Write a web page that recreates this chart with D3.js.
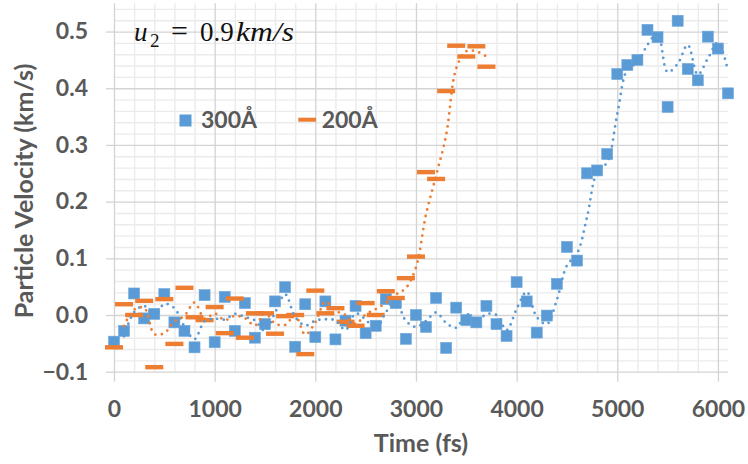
<!DOCTYPE html>
<html>
<head>
<meta charset="utf-8">
<script src="https://cdn.jsdelivr.net/npm/d3@7"></script>
<style>
body { margin: 0; background: #fff; }
text { font-family: Lato, "Open Sans", sans-serif; }
</style>
</head>
<body>
<script>
// data
var times300 = [0,100,200,300,400,500,600,700,800,900,1000,1100,1200,1300,1400,1500,1600,1700,1800,1900,
  2000,2100,2200,2300,2400,2500,2600,2700,2800,2900,3000,3100,3200,3300,3400,3500,3600,3700,3800,3900,
  4000,4100,4200,4300,4400,4500,4600,4700,4800,4900,5000,5100,5200,5300,5400,5500,5600,5700,5800,5900,
  6000,6100];
var vel300 = [-0.047,-0.028,0.038,-0.006,0.002,0.037,-0.013,-0.028,-0.057,0.035,
  -0.048,0.032,-0.028,0.021,-0.040,-0.016,0.024,0.049,-0.056,0.019,
  -0.039,0.024,-0.043,-0.010,0.016,-0.032,-0.019,0.028,0.021,-0.042,
  0.000,-0.021,0.030,-0.058,0.013,-0.009,-0.013,0.016,-0.016,-0.037,
  0.058,0.024,-0.031,-0.001,0.055,0.120,0.096,0.250,0.255,0.284,
  0.425,0.441,0.450,0.503,0.490,0.367,0.519,0.434,0.414,0.491,
  0.470,0.391];
var times200 = [0,100,200,300,400,500,600,700,800,900,1000,1100,1200,1300,1400,1500,1600,1700,1800,1900,
  2000,2100,2200,2300,2400,2500,2600,2700,2800,2900,3000,3100,3200,3300,3400,3500,3600,3700];
var vel200 = [-0.057,0.019,0.000,0.025,-0.092,0.028,-0.051,0.048,-0.004,-0.009,
  0.014,-0.032,0.029,-0.040,0.003,0.003,-0.033,-0.002,0.000,-0.069,
  0.043,0.003,0.012,-0.012,-0.019,0.021,0.000,0.042,0.030,0.065,
  0.103,0.252,0.240,0.395,0.475,0.456,0.474,0.438];
var seriesNames = ["300Å", "200Å"];
var xTicks = [0,1000,2000,3000,4000,5000,6000];
var yTicks = [-0.1,0,0.1,0.2,0.3,0.4,0.5];

var width = 748, height = 464;
var blue = "#5B9BD5", orange = "#ED7D31", grey = "#595959";

var x = d3.scaleLinear().domain([0, 6100]).range([114, 728]);
var y = d3.scaleLinear().domain([-0.1, 0.55]).range([371.7, 3.2]);

var svg = d3.select("body").append("svg")
  .attr("width", width)
  .attr("height", height);

//Minor grid
var xMinor = d3.range(200, 6101, 200).filter(function(d){ return d % 1000 !== 0; });
var yMinor = d3.range(-8, 55, 2).map(function(d){ return d / 100; })
  .filter(function(d){ return Math.abs(Math.round(d*100)) % 10 !== 0; });

svg.append("g")
  .attr("transform", "translate(0," + y.range()[0] + ")")
  .call(d3.axisBottom(x).tickValues(xMinor).tickSize(-(y.range()[0]-y.range()[1])).tickFormat(""))
  .call(function(g){ g.select(".domain").remove(); })
  .selectAll("line").attr("stroke", "#ebebeb").attr("stroke-width", 1.4);

svg.append("g")
  .attr("transform", "translate(" + x.range()[0] + ",0)")
  .call(d3.axisLeft(y).tickValues(yMinor).tickSize(-(x.range()[1]-x.range()[0])).tickFormat(""))
  .call(function(g){ g.select(".domain").remove(); })
  .selectAll("line").attr("stroke", "#ebebeb").attr("stroke-width", 1.4);

//Major grid
svg.append("g")
  .attr("transform", "translate(0," + y.range()[0] + ")")
  .call(d3.axisBottom(x).tickValues(xTicks).tickSize(-(y.range()[0]-y.range()[1])).tickFormat(""))
  .call(function(g){ g.select(".domain").remove(); })
  .selectAll("line").attr("stroke", "#d3d3d3").attr("stroke-width", 1.3);

svg.append("g")
  .attr("transform", "translate(" + x.range()[0] + ",0)")
  .call(d3.axisLeft(y).tickValues(yTicks).tickSize(-(x.range()[1]-x.range()[0])).tickFormat(""))
  .call(function(g){ g.select(".domain").remove(); })
  .selectAll("line").attr("stroke", "#d3d3d3").attr("stroke-width", 1.3);

//Axes with labels
var xAxis = svg.append("g")
  .attr("transform", "translate(0," + y.range()[0] + ")")
  .call(d3.axisBottom(x).tickValues(xTicks).tickSize(10).tickFormat(d3.format("d")));
xAxis.select(".domain").remove();
xAxis.selectAll("line").attr("stroke", "#d3d3d3").attr("stroke-width", 1.3);
xAxis.selectAll("text")
  .attr("y", 45).attr("dy", 0)
  .attr("fill", grey)
  .style("font-size", "23px").style("font-weight", "bold").style("font-family", "Lato");

var yAxis = svg.append("g")
  .attr("transform", "translate(" + x.range()[0] + ",0)")
  .call(d3.axisLeft(y).tickValues(yTicks).tickSize(8).tickPadding(18).tickFormat(d3.format(".1f")));
yAxis.select(".domain").remove();
yAxis.selectAll("line").attr("stroke", "#d3d3d3").attr("stroke-width", 1.3);
yAxis.selectAll("text")
  .attr("fill", grey)
  .style("font-size", "23px").style("font-weight", "bold").style("font-family", "Lato");

//Axis titles
svg.append("text")
  .attr("x", 421).attr("y", 452)
  .attr("text-anchor", "middle")
  .attr("fill", grey)
  .style("font-size", "25px").style("font-weight", "bold")
  .text("Time (fs)");

svg.append("text")
  .attr("transform", "translate(33,191) rotate(-90)")
  .attr("text-anchor", "middle")
  .attr("fill", grey)
  .style("font-size", "25px").style("font-weight", "bold")
  .text("Particle Velocity (km/s)");

//Moving average (period 2) trendlines
function movingAvg(ts, vs) {
  var out = [];
  for (var i = 1; i < vs.length; i++) out.push({t: ts[i], v: (vs[i-1] + vs[i]) / 2});
  return out;
}
var line = d3.line()
  .x(function(d){ return x(d.t); })
  .y(function(d){ return y(d.v); })
  .curve(d3.curveCatmullRom.alpha(0.5));

//Series 300
var pts300 = times300.map(function(t, i){ return {t: t, v: vel300[i]}; });
svg.selectAll(".sq")
  .data(pts300)
  .enter().append("rect")
  .attr("class", "sq")
  .attr("x", function(d){ return x(d.t) - 5.5; })
  .attr("y", function(d){ return y(d.v) - 5.5; })
  .attr("width", 11).attr("height", 11)
  .attr("fill", blue)
  .attr("stroke", "#6fa8dc").attr("stroke-width", 0.6);

//Series 200
var pts200 = times200.map(function(t, i){ return {t: t, v: vel200[i]}; });
svg.selectAll(".dash")
  .data(pts200)
  .enter().append("rect")
  .attr("class", "dash")
  .attr("x", function(d){ return x(d.t) - 9; })
  .attr("y", function(d){ return y(d.v) - 2.2; })
  .attr("width", 18).attr("height", 4.4)
  .attr("fill", orange);

svg.append("path")
  .datum(movingAvg(times300, vel300))
  .attr("d", line)
  .attr("fill", "none")
  .attr("stroke", blue)
  .attr("stroke-width", 2.8)
  .attr("stroke-linecap", "round")
  .attr("stroke-dasharray", "0 6.6");

svg.append("path")
  .datum(movingAvg(times200, vel200))
  .attr("d", line)
  .attr("fill", "none")
  .attr("stroke", orange)
  .attr("stroke-width", 2.8)
  .attr("stroke-linecap", "round")
  .attr("stroke-dasharray", "0 6.6");

//Legend
var legend = svg.append("g").attr("class", "legend");
legend.append("rect")
  .attr("x", 179.5).attr("y", 114.5).attr("width", 12).attr("height", 12)
  .attr("fill", blue);
legend.append("text")
  .attr("x", 201).attr("y", 128)
  .attr("fill", grey)
  .style("font-size", "23px").style("font-weight", "bold")
  .text(seriesNames[0]);
legend.append("rect")
  .attr("x", 298.3).attr("y", 117.7).attr("width", 17.7).attr("height", 4)
  .attr("fill", orange);
legend.append("text")
  .attr("x", 321.7).attr("y", 128)
  .attr("fill", grey)
  .style("font-size", "23px").style("font-weight", "bold")
  .text(seriesNames[1]);

//Annotation u2 = 0.9km/s
var note = svg.append("text")
  .attr("y", 41)
  .attr("fill", "#111")
  .style("font-family", "'Liberation Serif', serif")
  .style("font-size", "27px");
note.append("tspan").attr("x", 134).style("font-style", "italic").text("u");
note.append("tspan").attr("x", 150).attr("dy", 6).style("font-size", "19px").text("2");
note.append("tspan").attr("x", 171).attr("dy", -6).style("font-size", "30px").text("=");
note.append("tspan").attr("x", 200).text("0.9");
note.append("tspan").attr("x", 236).style("font-style", "italic")
  .attr("textLength", 58).attr("lengthAdjust", "spacingAndGlyphs").text("km/s");
</script>
</body>
</html>
